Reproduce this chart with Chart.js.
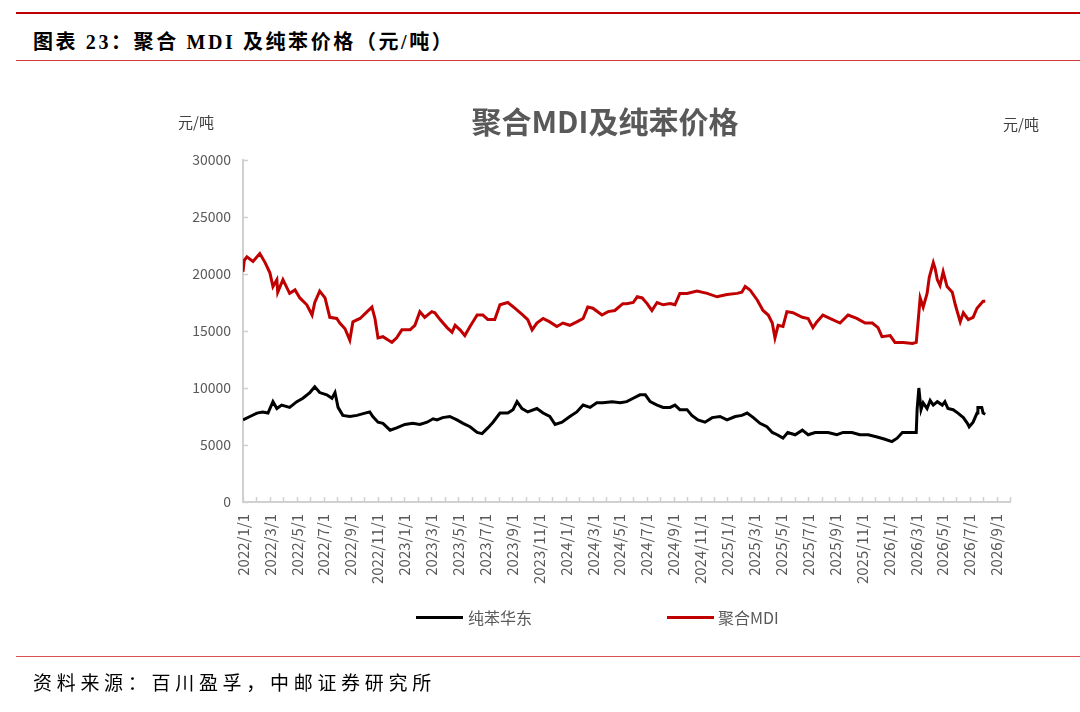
<!DOCTYPE html>
<html>
<head>
<meta charset="utf-8">
<script src="https://cdn.jsdelivr.net/npm/chart.js@4.4.1/dist/chart.umd.min.js"></script>
<style>
  html, body { margin: 0; padding: 0; background: #fff; }
  #page { position: relative; width: 1080px; height: 712px; overflow: hidden; background: #fff; }
  .abs { position: absolute; white-space: nowrap; }
  .rule { position: absolute; left: 16px; right: 0; }
  #hdr { left: 33px; top: 26px; font: bold 20px "Liberation Serif", "Noto Sans CJK SC", serif; letter-spacing: 2.6px; color: #000; }
  #ftr { left: 33px; top: 668px; font: 19px "Liberation Serif", "Noto Sans CJK SC", serif; letter-spacing: 4.7px; color: #000; }
  #ctitle { left: 0; width: 1210px; text-align: center; top: 98px; font: bold 30px "Noto Sans CJK SC", sans-serif; color: #595959; }
  .unit { font: 15px "Noto Sans CJK SC", sans-serif; color: #404040; }
  .leg { font: 16px "Noto Sans CJK SC", sans-serif; color: #595959; top: 605px; }
  .legline { position: absolute; height: 3px; top: 616px; width: 47px; }
  #wrap { position: absolute; left: 0; top: 0; width: 1080px; height: 712px; }
</style>
</head>
<body>
<div id="page">
  <div class="rule" style="top:12px;height:2px;background:#c00000;"></div>
  <div id="hdr" class="abs">图表 23：聚合 MDI 及纯苯价格（元/吨）</div>
  <div class="rule" style="top:60px;height:1px;background:#d03a3a;"></div>
  <div id="wrap"><canvas id="c" width="1080" height="712"></canvas></div>
  <div id="ctitle" class="abs">聚合MDI及纯苯价格</div>
  <div class="abs unit" style="left:178px;top:111px;">元/吨</div>
  <div class="abs unit" style="left:1003px;top:113px;">元/吨</div>
  <div class="legline" style="left:416px;background:#000;"></div>
  <div class="abs leg" style="left:468px;">纯苯华东</div>
  <div class="legline" style="left:667px;background:#c00000;"></div>
  <div class="abs leg" style="left:718px;">聚合MDI</div>
  <div class="rule" style="top:656px;height:1px;background:#e05050;"></div>
  <div id="ftr" class="abs">资料来源：百川盈孚，中邮证券研究所</div>
</div>
<script>
// ---- data ----
const xTickLabels = ['2022/1/1','2022/3/1','2022/5/1','2022/7/1','2022/9/1','2022/11/1',
  '2023/1/1','2023/3/1','2023/5/1','2023/7/1','2023/9/1','2023/11/1',
  '2024/1/1','2024/3/1','2024/5/1','2024/7/1','2024/9/1','2024/11/1',
  '2025/1/1','2025/3/1','2025/5/1','2025/7/1','2025/9/1','2025/11/1',
  '2026/1/1','2026/3/1','2026/5/1','2026/7/1','2026/9/1'];
const yTicks = [0, 5000, 10000, 15000, 20000, 25000, 30000];

const mdiDates = ['2022-01-01','2022-01-04','2022-01-10','2022-01-24','2022-02-08','2022-02-19','2022-03-01','2022-03-08','2022-03-17','2022-03-19','2022-03-31',
  '2022-04-15','2022-04-27','2022-05-08','2022-05-24','2022-06-05','2022-06-11','2022-06-22','2022-07-04','2022-07-15','2022-07-31',
  '2022-08-07','2022-08-19','2022-08-30','2022-09-06','2022-09-22','2022-10-08','2022-10-19','2022-10-26','2022-11-02','2022-11-13',
  '2022-12-03','2022-12-14','2022-12-26','2023-01-14','2023-01-25','2023-02-05','2023-02-15','2023-03-02','2023-03-09','2023-03-21',
  '2023-04-06','2023-04-17','2023-04-24','2023-05-05','2023-05-16','2023-05-28','2023-06-13','2023-06-26','2023-07-07','2023-07-23',
  '2023-08-04','2023-08-22','2023-09-07','2023-09-25','2023-10-06','2023-10-16','2023-10-27','2023-11-10','2023-11-25','2023-12-11',
  '2023-12-25','2024-01-10','2024-01-26','2024-02-09','2024-02-19','2024-03-01','2024-03-22','2024-04-05','2024-04-20','2024-05-08',
  '2024-05-17','2024-06-01','2024-06-10','2024-06-21','2024-07-02','2024-07-13','2024-07-25','2024-08-08','2024-08-24','2024-09-04',
  '2024-09-15','2024-10-01','2024-10-24','2024-11-16','2024-12-08','2024-12-31','2025-01-23','2025-02-03','2025-02-10','2025-02-20',
  '2025-03-08','2025-03-21','2025-04-02','2025-04-11','2025-04-17','2025-04-24','2025-05-05','2025-05-14','2025-05-28','2025-06-18',
  '2025-07-01','2025-07-12','2025-07-21','2025-08-04','2025-08-20','2025-09-12','2025-09-30','2025-10-20','2025-11-08','2025-11-24',
  '2025-12-07','2025-12-16','2026-01-04','2026-01-15','2026-02-03','2026-02-22','2026-03-02','2026-03-06','2026-03-11','2026-03-18',
  '2026-03-27','2026-04-01','2026-04-10','2026-04-14','2026-04-19','2026-04-25','2026-05-02','2026-05-11','2026-05-23','2026-05-30',
  '2026-06-10','2026-06-17','2026-06-28','2026-07-09','2026-07-18','2026-07-25','2026-08-01','2026-08-06'];
const mdiPrices = [20200,21200,21500,21100,21800,21000,20100,18900,19500,18400,19500,
  18300,18600,17900,17300,16400,17500,18500,17900,16200,16100,
  15700,15200,14200,15800,16100,16700,17100,16100,14400,14500,
  14000,14400,15100,15100,15500,16700,16200,16700,16600,16000,
  15300,14900,15500,15100,14600,15400,16400,16400,16000,16000,
  17300,17500,17000,16400,16000,15100,15700,16100,15800,15400,
  15700,15500,15800,16100,17100,17000,16400,16700,16800,17400,
  17400,17500,18000,17900,17400,16800,17500,17300,17400,17300,
  18300,18300,18500,18300,18000,18200,18300,18400,18900,18600,
  17700,16800,16400,15700,14400,15500,15400,16700,16600,16200,
  16100,15300,15800,16400,16100,15700,16400,16100,15700,15700,
  15300,14500,14600,14000,14000,13900,14000,15700,17900,17100,
  18300,19700,21000,20500,19500,19000,20200,18900,18400,17300,
  15800,16600,16000,16200,17000,17300,17600,17600];

const benzeneDates = ['2022-01-01','2022-01-17','2022-02-02','2022-02-14','2022-02-25','2022-03-08','2022-03-17','2022-03-28','2022-04-15','2022-05-01',
  '2022-05-15','2022-05-31','2022-06-11','2022-06-22','2022-07-08','2022-07-20','2022-07-27','2022-08-03','2022-08-14','2022-08-30',
  '2022-09-15','2022-10-03','2022-10-14','2022-10-21','2022-11-02','2022-11-13','2022-11-29','2022-12-14','2023-01-02','2023-01-20',
  '2023-02-05','2023-02-20','2023-03-05','2023-03-14','2023-03-27','2023-04-12','2023-04-28','2023-05-12','2023-05-28','2023-06-13',
  '2023-06-24','2023-07-07','2023-07-19','2023-08-04','2023-08-22','2023-09-03','2023-09-12','2023-09-23','2023-10-06','2023-10-27',
  '2023-11-10','2023-11-25','2023-12-07','2023-12-23','2024-01-10','2024-01-26','2024-02-09','2024-02-24','2024-03-10','2024-03-24',
  '2024-04-14','2024-05-02','2024-05-17','2024-06-01','2024-06-16','2024-06-28','2024-07-09','2024-07-25','2024-08-08','2024-08-24',
  '2024-09-04','2024-09-15','2024-10-01','2024-10-12','2024-10-26','2024-11-11','2024-11-27','2024-12-15','2024-12-31','2025-01-19',
  '2025-02-03','2025-02-14','2025-02-27','2025-03-14','2025-03-30','2025-04-11','2025-04-22','2025-05-05','2025-05-16','2025-06-02',
  '2025-06-18','2025-07-01','2025-07-17','2025-07-28','2025-08-16','2025-09-05','2025-09-19','2025-10-09','2025-10-27','2025-11-15',
  '2025-12-05','2025-12-23','2026-01-08','2026-01-20','2026-02-01','2026-02-11','2026-02-22','2026-03-02','2026-03-04','2026-03-08',
  '2026-03-13','2026-03-18','2026-03-27','2026-04-03','2026-04-10','2026-04-19','2026-04-30','2026-05-06','2026-05-13','2026-05-25',
  '2026-06-05','2026-06-17','2026-06-26','2026-06-30','2026-07-09','2026-07-18','2026-07-20','2026-07-29','2026-08-01','2026-08-06'];
const benzenePrices = [7200,7500,7800,7900,7800,8800,8200,8500,8300,8800,
  9100,9600,10100,9600,9400,9100,9600,8300,7600,7500,
  7600,7800,7900,7500,7000,6900,6300,6500,6800,6900,
  6800,7000,7300,7200,7400,7500,7200,6900,6600,6100,
  6000,6500,7000,7800,7800,8100,8800,8200,7900,8200,
  7800,7500,6800,7000,7500,7900,8500,8300,8700,8700,
  8800,8700,8800,9100,9400,9400,8800,8500,8300,8300,
  8500,8100,8100,7600,7200,7000,7400,7500,7200,7500,
  7600,7800,7400,6900,6600,6100,5900,5600,6100,5900,
  6300,5900,6100,6100,6100,5900,6100,6100,5900,5900,
  5700,5500,5300,5600,6100,6100,6100,6100,8100,10000,
  8100,8700,8200,8900,8500,8800,8500,8800,8200,8100,
  7800,7400,6900,6600,7000,7800,8300,8300,7800,7700];

// ---- helpers ----
function monthIndex(s) {
  const [y, m, d] = s.split('-').map(Number);
  const dim = new Date(y, m, 0).getDate();
  return (y - 2022) * 12 + (m - 1) + (d - 1) / dim;
}
function pts(dates, vals) { return dates.map((d, i) => ({ x: monthIndex(d), y: vals[i] })); }

const axisColor = '#d0d0d0';
const innerTicks = {
  id: 'innerTicks',
  afterDraw(chart) {
    const ctx = chart.ctx;
    const xs = chart.scales.x, ys = chart.scales.y;
    ctx.save();
    ctx.strokeStyle = axisColor;
    ctx.lineWidth = 1.5;
    ctx.beginPath();
    xs.ticks.forEach(t => {
      const px = Math.round(xs.getPixelForValue(t.value)) + 0.5;
      ctx.moveTo(px, xs.top);
      ctx.lineTo(px, xs.top - 5);
    });
    ys.ticks.forEach(t => {
      const py = Math.round(ys.getPixelForValue(t.value)) + 0.5;
      ctx.moveTo(ys.right, py);
      ctx.lineTo(ys.right + 5, py);
    });
    ctx.stroke();
    ctx.restore();
  }
};

new Chart(document.getElementById('c'), {
  type: 'line',
  data: {
    datasets: [
      { label: '纯苯华东', data: pts(benzeneDates, benzenePrices), borderColor: '#000000', borderWidth: 3, pointRadius: 0, tension: 0 },
      { label: '聚合MDI', data: pts(mdiDates, mdiPrices), borderColor: '#c00000', borderWidth: 3, pointRadius: 0, tension: 0 }
    ]
  },
  options: {
    responsive: false,
    animation: false,
    devicePixelRatio: 1,
    layout: { padding: { left: 0, top: 160, right: 70, bottom: 110 } },
    plugins: { legend: { display: false }, tooltip: { enabled: false }, title: { display: false } },
    scales: {
      x: {
        type: 'linear', min: 0, max: 57,
        afterFit(s) { s.height = 100; },
        afterBuildTicks(s) { const a = []; for (let v = 0; v <= 57; v++) a.push({ value: v }); s.ticks = a; },
        grid: { display: false, drawTicks: false },
        border: { display: true, color: axisColor, width: 2 },
        ticks: {
          autoSkip: false, minRotation: 90, maxRotation: 90, padding: 12,
          color: '#595959', font: { family: 'Noto Sans CJK SC', size: 15 },
          callback: (v) => (v % 2 === 0 ? (xTickLabels[v / 2] || '') : '')
        }
      },
      y: {
        min: 0, max: 30000,
        afterFit(s) { s.width = 243; },
        afterBuildTicks(s) { s.ticks = yTicks.map(v => ({ value: v })); },
        grid: { display: false, drawTicks: false },
        border: { display: true, color: axisColor, width: 2 },
        ticks: { padding: 12, color: '#595959', font: { family: 'Noto Sans CJK SC', size: 14 },
          callback: (v) => String(v) }
      }
    }
  },
  plugins: [innerTicks]
});
</script>
</body>
</html>
